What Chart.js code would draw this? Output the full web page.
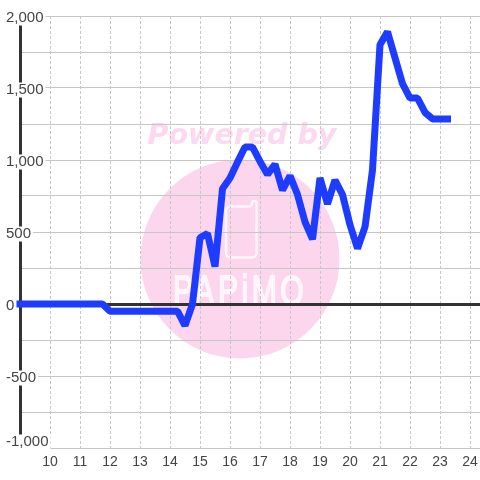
<!DOCTYPE html>
<html>
<head>
<meta charset="utf-8">
<style>
html,body{margin:0;padding:0;background:#fff}
#wrap{position:absolute;left:0;top:0;width:480px;height:480px}
</style>
<script src="https://cdn.jsdelivr.net/npm/chart.js@4"></script>
</head>
<body>
<div id="wrap"><canvas id="c" width="480" height="480"></canvas></div>
<script>
const hours = [9,9.25,9.5,9.75,10,10.25,10.5,10.75,11,11.25,11.5,11.75,12,12.25,12.5,12.75,13,13.25,13.5,13.75,14,14.25,14.5,14.75,15,15.25,15.5,15.75,16,16.25,16.5,16.75,17,17.25,17.5,17.75,18,18.25,18.5,18.75,19,19.25,19.5,19.75,20,20.25,20.5,20.75,21,21.25,21.5,21.75,22,22.25,22.5,22.75,23,23.25];
const values = [0,0,0,0,0,0,0,0,0,0,0,0,-50,-50,-50,-50,-50,-50,-50,-50,-50,-50,-150,0,460,490,260,800,875,985,1090,1090,990,900,970,790,890,760,570,450,875,695,860,760,550,385,535,930,1800,1890,1710,1530,1430,1430,1330,1285,1285,1285];
const watermarkTitle = 'Powered by';
const watermarkName = 'PAPiMO';

const points = hours.map((h, i) => ({x: h, y: values[i]}));

const backdropPlugin = {
  id: 'watermark',
  beforeDraw(chart) {
    const ctx = chart.ctx;
    ctx.save();
    ctx.fillStyle = '#ffffff';
    ctx.fillRect(0, 0, 480, 480);
    ctx.fillStyle = '#fcd6ed';
    ctx.beginPath();
    ctx.arc(240, 259, 99.5, 0, Math.PI * 2);
    ctx.fill();
    ctx.font = 'italic bold 28.5px "DejaVu Sans"';
    ctx.textAlign = 'center';
    ctx.textBaseline = 'alphabetic';
    ctx.fillStyle = '#fcd9ee';
    ctx.fillText(watermarkTitle, 242, 144, 190);
    ctx.strokeStyle = '#fff5fb';
    ctx.lineWidth = 2.5;
    ctx.beginPath();
    ctx.moveTo(231, 206.5);
    ctx.lineTo(249, 206.5);
    ctx.arcTo(252, 206.5, 252, 203.5, 3);
    ctx.arcTo(252, 201, 254, 201, 2);
    ctx.arcTo(256.5, 201, 256.5, 204, 2.5);
    ctx.lineTo(256.5, 253);
    ctx.arcTo(256.5, 257.5, 252, 257.5, 4.5);
    ctx.lineTo(230.5, 257.5);
    ctx.arcTo(226, 257.5, 226, 253, 4.5);
    ctx.lineTo(226, 211);
    ctx.arcTo(226, 206.5, 231, 206.5, 4.5);
    ctx.closePath();
    ctx.stroke();
    ctx.translate(173, 305);
    ctx.scale(0.7, 1);
    ctx.font = '43px "Liberation Sans"';
    ctx.letterSpacing = '5px';
    ctx.fillStyle = '#fff5fb';
    ctx.textAlign = 'left';
    ctx.lineWidth = 2;
    ctx.fillText(watermarkName, 0, 0);
    ctx.strokeText(watermarkName, 0, 0);
    ctx.restore();
    chart.scales.y.getLabelItems().forEach(it => {
      if (it.placed) return;
      it.placed = true;
      const o = it.options;
      const dy = it.label === '-1,000' ? -6 : 2;
      o.translation[1] += dy;
      if (o.backdrop) {
        o.backdrop.top = -7.5;
        o.backdrop.height = 15;
      }
    });
  }
};

new Chart(document.getElementById('c'), {
  type: 'line',
  data: {
    datasets: [{
      data: points,
      borderColor: '#1e3cff',
      borderWidth: 7,
      borderCapStyle: 'square',
      borderJoinStyle: 'bevel',
      pointRadius: 0,
      tension: 0,
      fill: false,
      clip: false
    }]
  },
  plugins: [backdropPlugin],
  options: {
    responsive: false,
    animation: false,
    layout: {padding: {top: 16, right: 0, bottom: 0, left: 0}},
    plugins: {legend: {display: false}, tooltip: {enabled: false}, title: {display: false}},
    scales: {
      x: {
        type: 'linear',
        min: 9,
        max: 24.3333,
        afterFit(s) { s.height = 32; s.paddingRight = 0; s.paddingLeft = 0; },
        border: {display: false, dash: [3, 2]},
        grid: {color: '#c6c6c6', lineWidth: 1, drawTicks: false},
        ticks: {
          stepSize: 1,
          includeBounds: false,
          autoSkip: false,
          maxRotation: 0,
          padding: 6,
          color: '#444444',
          font: {family: '"Liberation Sans"', size: 14},
          callback: v => v === 9 ? '' : String(v)
        }
      },
      y: {
        min: -1000,
        max: 2000,
        afterFit(s) { s.width = 20; },
        border: {display: true, color: '#333333', width: 3},
        grid: {
          drawTicks: false,
          color: c => c.tick && c.tick.value === 0 ? '#333333' : '#c6c6c6',
          lineWidth: c => c.tick && c.tick.value === 0 ? 3 : 1
        },
        ticks: {
          stepSize: 250,
          autoSkip: false,
          mirror: true,
          padding: -14,
          color: '#444444',
          font: {family: '"Liberation Sans"', size: 15},
          showLabelBackdrop: c => c.tick.value % 500 === 0,
          backdropColor: '#ffffff',
          backdropPadding: 2,
          callback: v => v % 500 === 0 ? v.toLocaleString('en-US') : ''
        }
      }
    }
  }
});
</script>
</body>
</html>
